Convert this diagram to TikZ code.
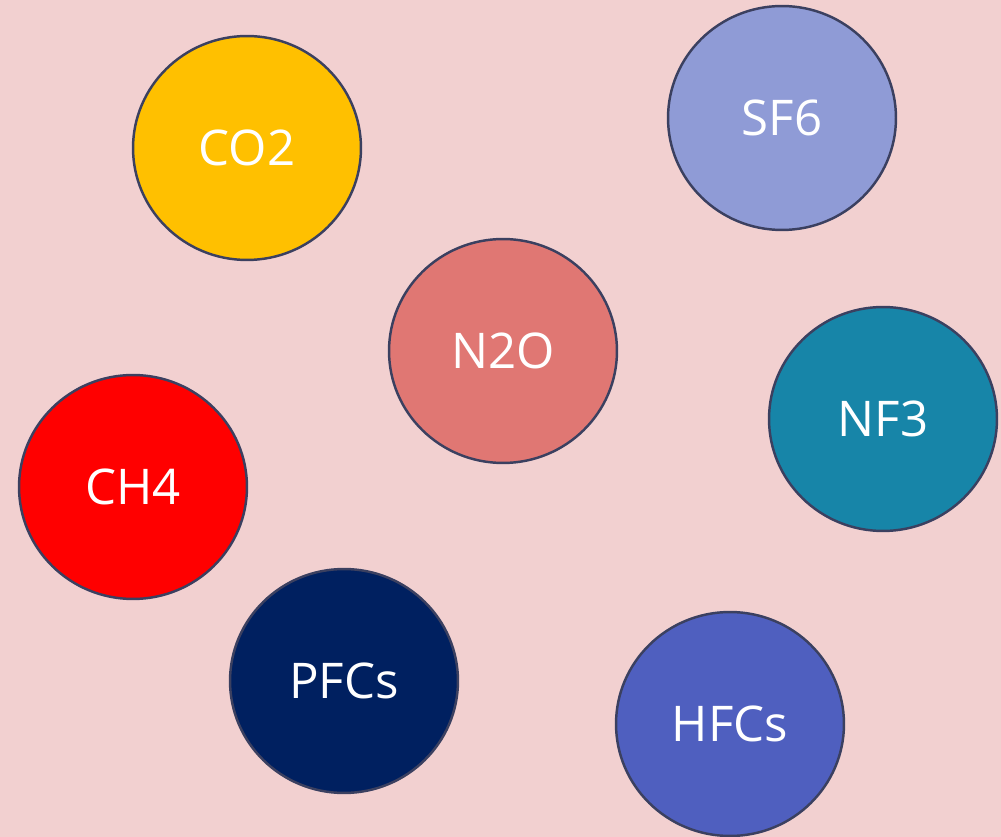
\documentclass[tikz,border=0pt]{standalone}
\usepackage{fontspec}
\setmainfont{Open Sans}
\usetikzlibrary{shapes.geometric}
\definecolor{cBack}{HTML}{F2D0D0}
\definecolor{cEdge}{HTML}{3B4060}
\definecolor{cYellow}{HTML}{FFC000}
\definecolor{cLilac}{HTML}{8F9BD6}
\definecolor{cSalmon}{HTML}{E07773}
\definecolor{cTeal}{HTML}{1785A8}
\definecolor{cRed}{HTML}{FF0000}
\definecolor{cNavy}{HTML}{002060}
\definecolor{cIndigo}{HTML}{4F5FBF}

\begin{document}
\begin{tikzpicture}[
  x=0.02cm,y=-0.02cm,
  gas/.style={draw=cEdge,line width=1.4pt,ellipse,inner sep=0pt,
    minimum width=4.56cm,minimum height=4.48cm,
    text=white,font=\fontsize{28}{32}\selectfont}
]
\useasboundingbox (0,0) rectangle (1001,837);
\fill[cBack] (0,0) rectangle (1001,837);
\node[gas,fill=cYellow] (co2) at (247,148) {CO2};
\node[gas,fill=cLilac] (sf6) at (782,118) {SF6};
\node[gas,fill=cSalmon] (n2o) at (503,351) {N2O};
\node[gas,fill=cTeal] (nf3) at (883,419) {NF3};
\node[gas,fill=cRed] (ch4) at (133,487) {CH4};
\node[gas,fill=cNavy] (pfcs) at (344,681) {PFCs};
\node[gas,fill=cIndigo] (hfcs) at (730,724) {HFCs};
\end{tikzpicture}
\end{document}
